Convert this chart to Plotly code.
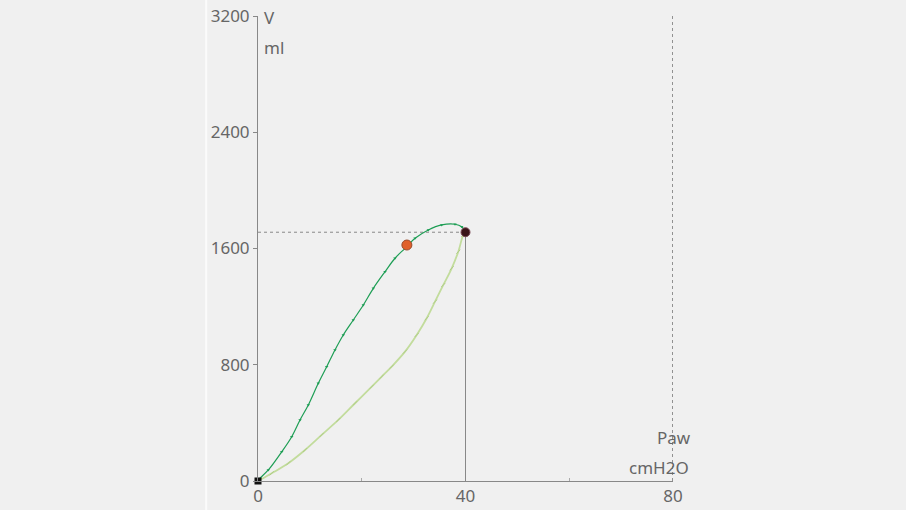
import plotly.graph_objs as go

# inspiration limb (dark green)
insp_paw = [0.0, 0.06, 1.99, 4.57, 6.50, 8.10, 9.70, 11.62, 13.24, 14.84, 16.44, 18.37, 20.30,
            22.23, 24.48, 26.41, 28.34, 30.27, 32.83, 35.41, 37.98, 39.27, 40.04]
insp_vol = [0, 7, 76, 201, 305, 420, 523, 672, 786, 902, 1005, 1108, 1211,
            1326, 1440, 1533, 1601, 1670, 1727, 1762, 1767, 1750, 1712]

# expiration limb (light green)
exp_paw = [40.04, 39.57, 38.61, 37.34, 35.72, 34.12, 32.52, 30.59, 28.34, 25.77, 23.85,
           21.93, 18.70, 15.48, 12.28, 9.06, 5.84, 2.64, 0.39, 0.0]
exp_vol = [1712, 1693, 1578, 1464, 1349, 1234, 1120, 1005, 890, 787, 718,
           649, 535, 420, 317, 213, 122, 53, 7, 0]

# markers
cursor_paw = [28.7]
cursor_vol = [1624]
end_paw = [40.0]
end_vol = [1712]
start_paw = [0.0]
start_vol = [0]

y_ticks = [0, 800, 1600, 2400, 3200]
x_ticks = [0, 40, 80]

font = 'Noto Sans'
grey = '#666666'

data = [
    go.Scatter(x=exp_paw, y=exp_vol, mode='lines+markers', line=dict(color='#c2dc9c', width=1.8, shape='spline'),
               marker=dict(symbol='line-ne', size=4, line=dict(color='#b0cc88', width=1)),
               hoverinfo='skip', cliponaxis=False),
    go.Scatter(x=insp_paw, y=insp_vol, mode='lines+markers', line=dict(color='#1e9e55', width=1.2, shape='spline'),
               marker=dict(symbol='triangle-down', size=3, color='#1e9e55'),
               hoverinfo='skip', cliponaxis=False),
    go.Scatter(x=cursor_paw, y=cursor_vol, mode='markers',
               marker=dict(color='#e0602a', size=10, line=dict(color='#9a4a2a', width=1)), cliponaxis=False),
    go.Scatter(x=end_paw, y=end_vol, mode='markers',
               marker=dict(color='#3a1418', size=9, line=dict(color='#7a4a55', width=1)), cliponaxis=False),
    go.Scatter(x=start_paw, y=start_vol, mode='markers',
               marker=dict(color='#111111', size=7, symbol='square'), cliponaxis=False),
]

shapes = [
    # crosshair to end point
    dict(type='line', xref='x', yref='y', x0=0, x1=end_paw[0], y0=end_vol[0], y1=end_vol[0],
         line=dict(color='#888888', width=1, dash='dot'), layer='below'),
    dict(type='line', xref='x', yref='y', x0=end_paw[0], x1=end_paw[0], y0=0, y1=end_vol[0],
         line=dict(color='#888888', width=1), layer='below'),
    # right limit
    dict(type='line', xref='x', yref='paper', x0=80, x1=80, y0=0, y1=1.004,
         line=dict(color='#333333', width=1, dash='dot'), layer='below'),
    # white border strip on the left
    dict(type='line', xref='paper', yref='paper', x0=-0.125, x1=-0.125, y0=-0.07, y1=1.04,
         line=dict(color='#fbfbfb', width=2), layer='below'),
]

annotations = [
    dict(text='V', x=0.01, y=0.996, xref='paper', yref='paper', xanchor='left', yanchor='middle', showarrow=False),
    dict(text='ml', x=0.01, y=0.933, xref='paper', yref='paper', xanchor='left', yanchor='middle', showarrow=False),
    dict(text='Paw', x=1.047, y=0.093, xref='paper', yref='paper', xanchor='right', yanchor='middle', showarrow=False),
    dict(text='cmH2O', x=1.043, y=0.030, xref='paper', yref='paper', xanchor='right', yanchor='middle', showarrow=False),
]

layout = dict(
    width=906, height=510, autosize=False,
    margin=dict(l=258, r=233, t=16, b=29),
    paper_bgcolor='#f0f0f0', plot_bgcolor='#f0f0f0',
    showlegend=False,
    font=dict(family=font, size=17, color=grey),
    xaxis=dict(range=[0, 80], tickvals=x_ticks, showgrid=False, zeroline=False, automargin=False,
               showline=True, linecolor='#888888', linewidth=1,
               ticks='', tickfont=dict(size=17, color=grey),
               minor=dict(tickvals=[20, 60], ticks='inside', ticklen=3, tickcolor='#aaaaaa')),
    yaxis=dict(range=[0, 3200], tickvals=y_ticks, showgrid=False, zeroline=False, automargin=False,
               showline=True, linecolor='#888888', linewidth=1,
               ticks='outside', ticklen=4, tickcolor='#888888', tickfont=dict(size=17, color=grey)),
    shapes=shapes,
    annotations=annotations,
)

fig = go.Figure(data=data, layout=layout)
# page has a default 8px body margin; drop it so the figure fills the window
fig.write_html("out.html", config={'responsive': False, 'displayModeBar': False},
               post_script="document.body.style.margin='0';document.body.style.background='#f0f0f0';"
                           "Plotly.relayout('{plot_id}', {width: 906, height: 510});")
